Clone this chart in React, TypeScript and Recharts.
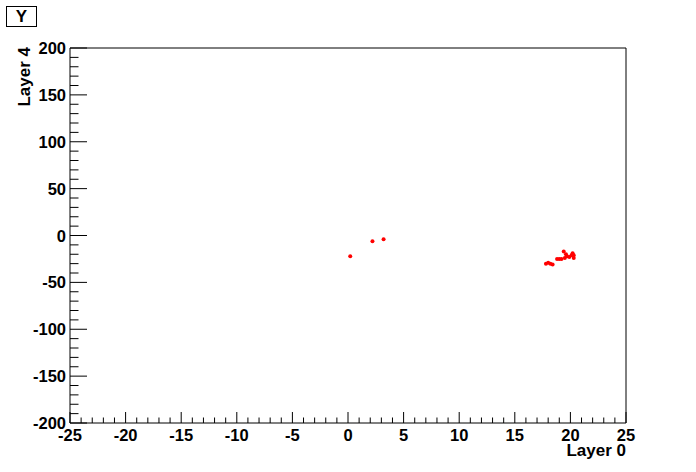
import { ScatterChart, Scatter, XAxis, YAxis, ReferenceLine } from 'recharts';

// hits: layer 0 position vs layer 4 position
const layer0 = [0.2, 2.2, 3.2, 17.8, 18.0, 18.2, 18.4, 19.0, 19.2, 19.4, 19.5, 19.7, 19.9, 20.1, 20.2, 20.3, 18.8, 19.6, 20.3];
const layer4 = [-22, -6, -4, -30, -29, -30, -31, -25, -25, -17, -24, -22, -23, -21, -19, -24, -25, -20, -21];

const X_MAJOR = [-25, -20, -15, -10, -5, 0, 5, 10, 15, 20, 25];
const Y_MAJOR = [-200, -150, -100, -50, 0, 50, 100, 150, 200];

const xTicks: number[] = [];
for (let v = -25; v <= 25; v++) xTicks.push(v);
const yTicks: number[] = [];
for (let v = -200; v <= 200; v += 10) yTicks.push(v);

const points = layer0.map((x, i) => ({ x, y: layer4[i] }));

const FONT = '"Liberation Sans", Arial, sans-serif';

function XTick(props: any) {
  const { x, y, payload } = props;
  const major = X_MAJOR.includes(payload.value);
  return (
    <g>
      <line x1={x} x2={x} y1={y} y2={y - (major ? 11 : 5.5)} stroke="#000" />
      {major && (
        <text x={x} y={y + 18} textAnchor="middle" fontFamily={FONT} fontWeight="bold" fontSize={16.5} fill="#000">
          {payload.value}
        </text>
      )}
    </g>
  );
}

function YTick(props: any) {
  const { x, y, payload } = props;
  const major = Y_MAJOR.includes(payload.value);
  return (
    <g>
      <line x1={x} x2={x + (major ? 17 : 8.5)} y1={y} y2={y} stroke="#000" />
      {major && (
        <text x={x - 4} y={y + 6} textAnchor="end" fontFamily={FONT} fontWeight="bold" fontSize={16.5} fill="#000">
          {payload.value}
        </text>
      )}
    </g>
  );
}

function Dot(props: any) {
  const { cx, cy } = props;
  return <circle cx={cx} cy={cy} r={2} fill="#ff0000" />;
}

export default function App() {
  return (
    <div style={{ position: 'absolute', left: 0, top: 0, width: 696, height: 472, background: '#fff' }}>
      <ScatterChart width={696} height={472} margin={{ top: 48, right: 70, bottom: 19, left: 10 }}>
        <XAxis
          type="number"
          dataKey="x"
          domain={[-25, 25]}
          ticks={xTicks}
          interval={0}
          tick={<XTick />}
          tickLine={false}
          tickSize={0}
          tickMargin={0}
          axisLine={{ stroke: '#000' }}
          height={30}
          allowDataOverflow
        />
        <YAxis
          type="number"
          dataKey="y"
          domain={[-200, 200]}
          ticks={yTicks}
          interval={0}
          tick={<YTick />}
          tickLine={false}
          tickSize={0}
          tickMargin={0}
          axisLine={{ stroke: '#000' }}
          width={60}
          allowDataOverflow
        />
        <ReferenceLine y={200} stroke="#000" />
        <ReferenceLine x={25} stroke="#000" />
        <Scatter data={points} fill="#ff0000" shape={<Dot />} isAnimationActive={false} />
      </ScatterChart>
      <div style={{ position: 'absolute', left: 6, top: 6, width: 29, height: 19, border: '1px solid #000', fontFamily: FONT, fontWeight: 'bold', fontSize: 17, textAlign: 'center', lineHeight: '19px' }}>
        Y
      </div>
      <div style={{ position: 'absolute', right: 70, top: 442, fontFamily: FONT, fontWeight: 'bold', fontSize: 17, lineHeight: '17px' }}>
        Layer 0
      </div>
      <div style={{ position: 'absolute', left: 15, top: 47, fontFamily: FONT, fontWeight: 'bold', fontSize: 17, lineHeight: '19px', writingMode: 'vertical-rl', transform: 'rotate(180deg)', transformOrigin: 'center' }}>
        Layer 4
      </div>
    </div>
  );
}
